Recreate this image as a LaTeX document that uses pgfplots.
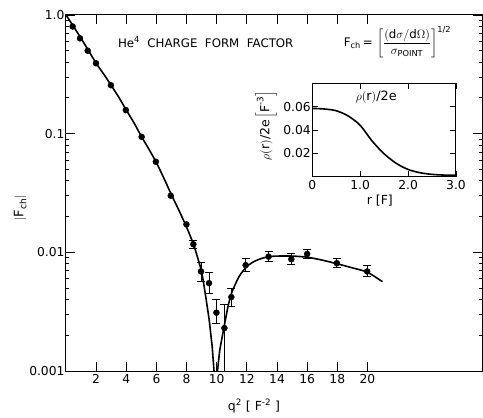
\documentclass[border=0pt]{standalone}
\usepackage{amsmath}
\usepackage{fontspec}
\setmainfont{DejaVu Sans}
\usepackage{pgfplots}
\pgfplotsset{compat=1.18}

\begin{document}
\begin{tikzpicture}
\useasboundingbox (-66pt,-47pt) rectangle (417pt,371pt);
\begin{axis}[
  scale only axis,
  width=416pt, height=356pt,
  at={(0pt,0pt)}, anchor=south west,
  ymode=log,
  xmin=0, xmax=27.6,
  ymin=0.001, ymax=1,
  xtick={2,4,...,20},
  xticklabels={2,4,6,8,10,12,14,16,18,20},
  ytick={0.001,0.01,0.1,1},
  yticklabels={0.001,0.01,0.1,1.0},
  minor ytick={},
  tick align=inside,
  major tick length=9pt,
  tick style={line width=0.9pt, black},
  axis line style={line width=1pt},
  ticklabel style={font=\fontsize{12.3}{14}\selectfont},
  yticklabel style={xshift=2pt},
  xlabel={q\textsuperscript{2} [ F\textsuperscript{-2} ]},
  ylabel={$\left|\text{F}_{\text{ch}}\right|$},
  x label style={at={(axis description cs:0.452,-0.098)}, anchor=center, font=\fontsize{12.5}{14}\selectfont},
  y label style={at={(axis description cs:-0.11,0.458)}, anchor=center, font=\fontsize{13}{15}\selectfont},
]
% fitted curve
\addplot[line width=1.6pt, black, smooth, tension=0.4] coordinates {
  (0,1.0) (0.5,0.80) (1,0.635) (1.5,0.50) (2,0.392) (2.5,0.318) (3,0.255)
  (3.5,0.203) (4,0.158) (4.5,0.124) (5,0.095) (5.5,0.074) (6,0.057)
  (6.5,0.042) (7,0.0305) (7.5,0.0225) (8,0.0163) (8.5,0.0113) (9,0.0069)
};
\addplot[line width=1.6pt, black] coordinates {
  (9,0.0069) (9.15,0.0053) (9.3,0.0040) (9.5,0.0027) (9.7,0.0016)
  (9.82,0.0010) (9.94,0.0001) (10.05,0.0010) (10.2,0.0015)
};
\addplot[line width=1.6pt, black, smooth, tension=0.4] coordinates {
  (10.2,0.0015) (10.5,0.0024) (10.75,0.0035) (11,0.0046) (11.5,0.0063)
  (12,0.0076) (12.5,0.0084) (13,0.0089) (13.5,0.0092) (14,0.0093)
  (15,0.0093) (16,0.0091) (17,0.0086) (18,0.0080) (19,0.0074)
  (20,0.0068) (21,0.00565)
};
% measured points, no visible errors
\addplot[only marks, mark=*, mark size=3pt, black] coordinates {
  (0.44,0.80) (0.93,0.636) (1.44,0.50) (1.99,0.392) (2.98,0.256)
  (3.97,0.158) (5.02,0.094) (5.96,0.058) (6.95,0.030) (7.99,0.0172)
};
% measured points with error bars
\addplot[only marks, mark=*, mark size=3pt, black,
  error bars/.cd, y dir=both, y explicit,
  error bar style={line width=1pt},
  error mark options={rotate=90, mark size=4pt, line width=1pt}]
coordinates {
  (8.45,0.0117) += (0,0.0010) -= (0,0.0009)
  (8.96,0.0069) += (0,0.0013) -= (0,0.0012)
  (9.49,0.0055) += (0,0.0012) -= (0,0.0010)
  (9.98,0.0031) += (0,0.0009) -= (0,0.0006)
  (10.51,0.0023) += (0,0.0013) -= (0,0.00229)
  (10.97,0.0042) += (0,0.0008) -= (0,0.0007)
  (11.92,0.0078) += (0,0.0010) -= (0,0.0009)
  (13.44,0.0092) += (0,0.0010) -= (0,0.0008)
  (14.95,0.00875) += (0,0.0010) -= (0,0.0009)
  (16.0,0.0097) += (0,0.0008) -= (0,0.0008)
  (17.97,0.0081) += (0,0.0007) -= (0,0.0006)
  (19.98,0.0069) += (0,0.0008) -= (0,0.0006)
};
\node[font=\fontsize{11.8}{13}\selectfont] at (rel axis cs:0.336,0.924)
  {He\textsuperscript{4}\ \ CHARGE\ \ FORM\ \ FACTOR};
\node[font=\fontsize{11.8}{13}\selectfont] at (rel axis cs:0.797,0.924)
  {$\text{F}_{\text{ch}}\text{\,=\,}\left[\dfrac{(\text{d}\sigma/\text{d}\Omega)}{\sigma_{\text{POINT}}}\right]^{\text{1/2}}$};
\end{axis}

\begin{axis}[
  scale only axis,
  width=143.7pt, height=93.4pt,
  at={(246.3pt,194.3pt)}, anchor=south west,
  xmin=0, xmax=3, ymin=0, ymax=0.08,
  xtick={0,1,2,3},
  xticklabels={0,1.0,2.0,3.0},
  ytick={0.02,0.04,0.06},
  yticklabels={0.02,0.04,0.06},
  scaled y ticks=false,
  tick align=inside,
  major tick length=6pt,
  tick style={line width=0.9pt, black},
  axis line style={line width=1pt},
  ticklabel style={font=\fontsize{12.3}{14}\selectfont},
  yticklabel style={xshift=2pt},
  xlabel={r [F]},
  ylabel={$\rho(\text{r})\text{/2e}\left[\text{F}^{\text{-3}}\right]$},
  x label style={at={(axis description cs:0.47,-0.26)}, anchor=center, font=\fontsize{12.5}{14}\selectfont},
  y label style={at={(axis description cs:-0.32,0.55)}, anchor=center, font=\fontsize{12.5}{14}\selectfont},
]
\addplot[line width=1.6pt, black, smooth] coordinates {
  (0,0.0585) (0.25,0.0580) (0.5,0.0565) (0.75,0.0520) (1.0,0.0440)
  (1.25,0.0305) (1.5,0.0196) (1.75,0.0115) (2.0,0.0062) (2.25,0.0034)
  (2.5,0.0020) (2.75,0.0014) (3.0,0.0013)
};
\node[font=\fontsize{12.8}{14}\selectfont] at (rel axis cs:0.445,0.853) {$\rho(\text{r})\text{/2e}$};
\end{axis}
\end{tikzpicture}
\end{document}
